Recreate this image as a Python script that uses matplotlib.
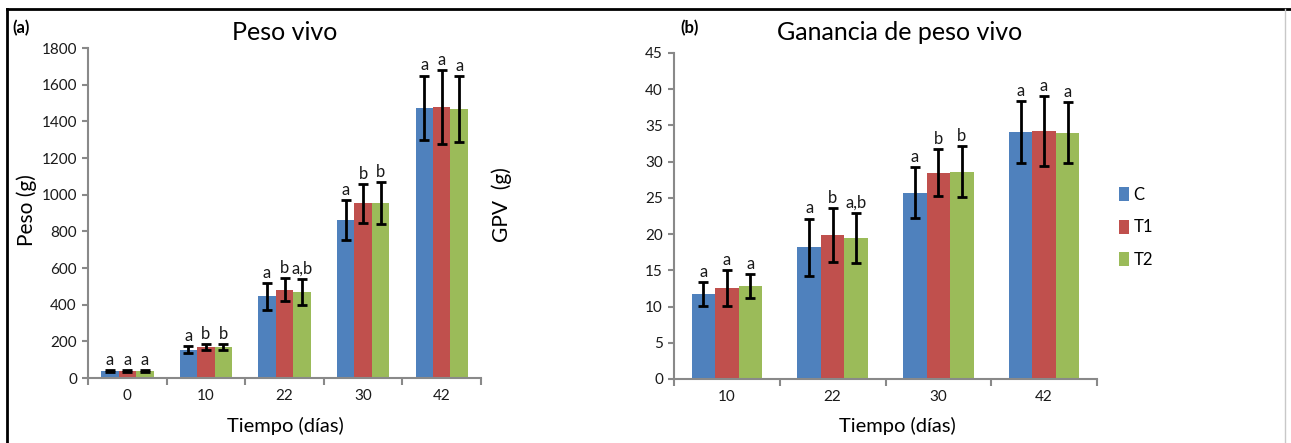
import numpy as np
import matplotlib
matplotlib.use("Agg")
import matplotlib.pyplot as plt
from matplotlib.lines import Line2D
from matplotlib.patches import Patch

plt.rcParams['font.family'] = ['Lato', 'DejaVu Sans']

# Data
series = ['C', 'T1', 'T2']
colors = ['#4F81BD', '#C0504D', '#9BBB59']

# (a) Peso vivo
days_a = ['0', '10', '22', '30', '42']
peso_mean = [
    [40, 155, 445, 862, 1473],    # C
    [40, 169, 482, 953, 1478],    # T1
    [40, 169, 469, 955, 1469],    # T2
]
peso_err = [
    [5, 17, 72, 111, 177],
    [5, 16, 63, 105, 203],
    [5, 17, 73, 113, 179],
]
peso_letters = [
    ['a', 'a', 'a', 'a', 'a'],
    ['a', 'b', 'b', 'b', 'a'],
    ['a', 'b', 'a,b', 'b', 'a'],
]

# (b) Ganancia de peso vivo
days_b = ['10', '22', '30', '42']
gpv_mean = [
    [11.75, 18.2, 25.7, 34.1],
    [12.6, 19.9, 28.5, 34.2],
    [12.85, 19.5, 28.6, 34.0],
]
gpv_err = [
    [1.65, 3.95, 3.5, 4.25],
    [2.5, 3.75, 3.3, 4.8],
    [1.7, 3.45, 3.5, 4.2],
]
gpv_letters = [
    ['a', 'a', 'a', 'a'],
    ['a', 'b', 'b', 'a'],
    ['a', 'a,b', 'b', 'a'],
]

W, H = 1291, 443
fig = plt.figure(figsize=(W / 100, H / 100), dpi=100)

axis_gray = '#898989'


def px(x, y):
    # pixel coords (from top-left) to figure fraction
    return x / W, 1 - y / H


def draw_panel(ax, cats, means, errs, letters, ymax, ystep):
    n = len(cats)
    x = np.arange(n)
    w = 1 / 4.5
    for k in range(3):
        xs = x + (k - 1) * w
        ax.bar(xs, means[k], width=w, color=colors[k], edgecolor='none', zorder=2)
        ax.errorbar(xs, means[k], yerr=errs[k], fmt='none', ecolor='black',
                    elinewidth=2, capsize=3.5, capthick=2, zorder=3)
        for xi, m, e, lab in zip(xs, means[k], errs[k], letters[k]):
            ax.annotate(lab, (xi, m + e), xytext=(0, 1.5), textcoords='offset points',
                        ha='center', va='bottom', fontsize=12, color='#1a1a1a')
    ax.set_xlim(-0.5, n - 0.5)
    ax.set_ylim(0, ymax)
    ax.set_yticks(np.arange(0, ymax + ystep / 2, ystep))
    ax.set_xticks(x)
    ax.set_xticklabels(cats)
    ax.set_xticks(np.arange(-0.5, n, 1), minor=True)
    ax.tick_params(axis='x', which='major', length=0, pad=8, labelsize=11, labelcolor='#1a1a1a')
    ax.tick_params(axis='x', which='minor', length=5, width=1.5, color=axis_gray, direction='out')
    ax.tick_params(axis='y', length=4, width=1.5, color=axis_gray, labelsize=11,
                   labelcolor='#1a1a1a', pad=4)
    for s in ['top', 'right']:
        ax.spines[s].set_visible(False)
    for s in ['left', 'bottom']:
        ax.spines[s].set_color(axis_gray)
        ax.spines[s].set_linewidth(1.5)


# left panel
l, b = px(88, 378)
ax1 = fig.add_axes([l, b, 393 / W, 330 / H])
draw_panel(ax1, days_a, peso_mean, peso_err, peso_letters, 1800, 200)

# right panel
l, b = px(674, 379)
ax2 = fig.add_axes([l, b, 423 / W, 326 / H])
draw_panel(ax2, days_b, gpv_mean, gpv_err, gpv_letters, 45, 5)

# titles, labels
fig.text(*px(285, 33), 'Peso vivo', ha='center', va='center', fontsize=18)
fig.text(*px(900, 33), 'Ganancia de peso vivo', ha='center', va='center', fontsize=18)
fig.text(*px(12, 28), '(a)', ha='left', va='center', fontsize=12, fontweight='bold')
fig.text(*px(680, 28), '(b)', ha='left', va='center', fontsize=12, fontweight='bold')
fig.text(*px(285, 426), 'Tiempo (días)', ha='center', va='center', fontsize=14.5)
fig.text(*px(897, 426), 'Tiempo (días)', ha='center', va='center', fontsize=14.5)
fig.text(*px(27, 210), 'Peso (g)', ha='center', va='center', fontsize=15, rotation=90)
fig.text(*px(502, 205), 'GPV  (g)', ha='center', va='center', fontsize=15, rotation=90)

# legend
handles = [Patch(facecolor=c, edgecolor='none') for c in colors]
fig.legend(handles, series, loc='upper left', bbox_to_anchor=px(1112, 180),
           frameon=False, fontsize=12, handlelength=0.6, handleheight=0.9,
           handletextpad=0.3, labelspacing=1.0, borderaxespad=0)

# outer frame
fig.add_artist(Line2D([7 / W, 7 / W], [0, 1 - 9 / H], color='black', lw=2))
fig.add_artist(Line2D([7 / W, 1], [1 - 9 / H, 1 - 9 / H], color='black', lw=2))
fig.add_artist(Line2D([1285 / W, 1285 / W], [0, 1 - 9 / H], color='#c8c8c8', lw=1))

fig.savefig('out.png', dpi=100)
